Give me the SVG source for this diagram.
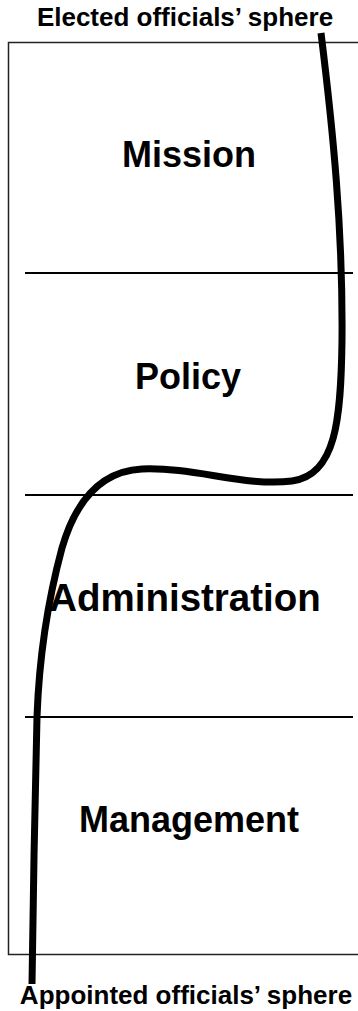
<svg xmlns="http://www.w3.org/2000/svg" width="358" height="1011" viewBox="0 0 358 1011">
<style>
.lbl{font-family:"Liberation Sans",Arial,sans-serif;font-weight:bold;fill:#000;text-anchor:middle}
.big{font-size:36px}
.sm{font-size:26px}
.div{stroke:#000;stroke-width:2;fill:none}
</style>
<rect x="0" y="0" width="358" height="1011" fill="#fff"/>
<g id="frame">
<path d="M370,42.5 H8.5 V954.5 H370" fill="none" stroke="#222" stroke-width="1.5"/>
</g>
<g id="dividers">
<line class="div" x1="25" y1="273" x2="353" y2="273"/>
<line class="div" x1="25" y1="495" x2="353" y2="495"/>
<line class="div" x1="25" y1="717" x2="353" y2="717"/>
</g>
<g id="top-label"><text class="lbl sm" x="185" y="26">Elected officials’ sphere</text></g>
<g id="mission"><text class="lbl big" x="189" y="167">Mission</text></g>
<g id="policy"><text class="lbl big" x="188" y="389">Policy</text></g>
<g id="administration"><text class="lbl big" x="185" y="611" style="font-size:38.5px">Administration</text></g>
<g id="management"><text class="lbl big" x="189" y="832">Management</text></g>
<g id="bottom-label"><text class="lbl sm" x="186" y="1004">Appointed officials’ sphere</text></g>
<g id="connectors">
<path d="M321,33 C333,130 343,230 342,340 C341,420 336,475 292,481 C245,487 195,467 142,469 C102,471 76,500 62,548 C48,600 39,660 37,717 C35,800 33,900 32,984" fill="none" stroke="#000" stroke-width="7"/>
</g>
</svg>
